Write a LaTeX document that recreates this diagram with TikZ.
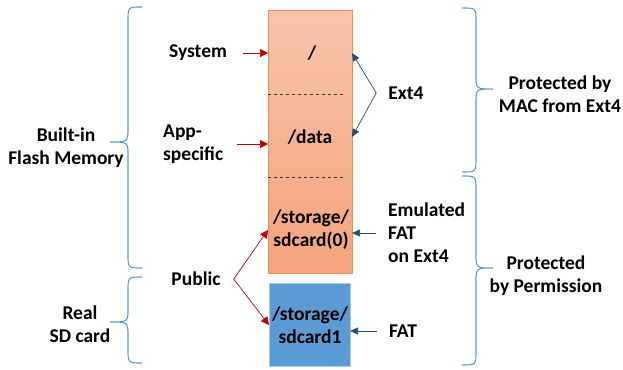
\documentclass[tikz,border=0pt]{standalone}
\usepackage{fontspec}
\setmainfont{Carlito}
\usetikzlibrary{arrows.meta, positioning, shapes}
\definecolor{flashtop}{HTML}{F8C4AA}
\definecolor{flashbot}{HTML}{F4A37C}
\definecolor{flashedge}{HTML}{F18B4F}
\definecolor{sdfill}{HTML}{5B9BD5}
\definecolor{sdedge}{HTML}{A9CBEA}
\definecolor{redarr}{HTML}{C00000}
\definecolor{bluearr}{HTML}{1F4E79}
\definecolor{bracecol}{HTML}{5B9BD5}
\tikzset{lbl/.style={font=\fontsize{19.5}{23}\selectfont\bfseries,align=center,inner sep=0pt},
  flash box/.style={rectangle,draw=flashedge,line width=1pt,top color=flashtop,bottom color=flashbot,
    minimum width=84pt,minimum height=262pt,outer sep=0pt},
  sd box/.style={rectangle,draw=sdedge,line width=1pt,fill=sdfill,
    minimum width=81pt,minimum height=83pt,outer sep=0pt},
  sep line/.style={draw=black!80,dashed,line width=0.6pt},
  red arrow/.style={draw=redarr,line width=0.7pt,-{Triangle[length=8pt,width=8pt]}},
  blue arrow/.style={draw=bluearr,line width=0.7pt,-{Triangle[length=8pt,width=7pt]}},
  brace line/.style={draw=bracecol,line width=1.1pt},}
% #1 end x, #2 spine x, #3 tip x, #4 top y, #5 tip y, #6 bottom y
\newcommand{\sidebrace}[6]{%
  \draw[brace line] (#1,#4) .. controls (#2,#4) .. (#2,#4+14) -- (#2,#5-14)
    .. controls (#2,#5) .. (#3,#5) .. controls (#2,#5) .. (#2,#5+14)
    -- (#2,#6-14) .. controls (#2,#6) .. (#1,#6);}

\begin{document}
\begin{tikzpicture}[x=1pt,y=-1pt]
   \useasboundingbox (0,0) rectangle (623,369);
   % storage boxes
   \node[flash box] (flash) at (310,142) {};
   \node[sd box] (sd) at (309.5,324.5) {};
   \draw[sep line] (268,94) -- (344,94);
   \draw[sep line] (268,177) -- (344,177);
   \node[lbl] (root) at (312,53) {/};
   \node[lbl] (data) at (310,137) {/data};
   \node[lbl] (emu) at (311,230) {/storage/\\sdcard(0)};
   \node[lbl] (card) at (310,325) {/storage/\\sdcard1};
   % left labels
   \node[lbl] (builtin) at (66,148) {Built-in\\Flash Memory};
   \node[lbl] (realsd) at (80,324) {Real\\SD card};
   \node[lbl] (sys) at (198,53) {System};
   \node[lbl,align=left,anchor=west] (app) at (163,144) {App-\\specific};
   \node[lbl] (pub) at (196,279) {Public};
   % right labels
   \node[lbl] (ext) at (406,93) {Ext4};
   \node[lbl,align=left,anchor=west] (emul) at (388,233) {Emulated\\FAT\\on Ext4};
   \node[lbl] (fat) at (403,331) {FAT};
   \node[lbl] (mac) at (560,94) {Protected by\\MAC from Ext4};
   \node[lbl] (perm) at (546,276) {Protected\\by Permission};
   % arrows
   \draw[red arrow] ([xshift=16pt]sys.east) -- (flash.west |- sys);
   \draw[red arrow] ([xshift=14pt]app.east) -- (flash.west |- app);
   \draw[red arrow] ([xshift=13pt]pub.east) -- (flash.west |- emu);
   \draw[red arrow] ([xshift=13pt]pub.east) -- (sd.west |- card);
   \draw[blue arrow] ([xshift=-12pt]ext.west) -- (flash.east |- root);
   \draw[blue arrow] ([xshift=-12pt]ext.west) -- (flash.east |- data);
   \draw[blue arrow] ([xshift=-12pt]emul.west) -- (flash.east |- emul);
   \draw[blue arrow] ([xshift=-12pt]fat.west) -- (sd.east |- fat);
   % braces
   \sidebrace{142}{128}{110}{7}{142}{268}
   \sidebrace{142}{128}{110}{277}{322}{363}
   \sidebrace{462}{476}{493}{8}{89}{172}
   \sidebrace{462}{476}{493}{176}{268}{365}
\end{tikzpicture}
\end{document}
